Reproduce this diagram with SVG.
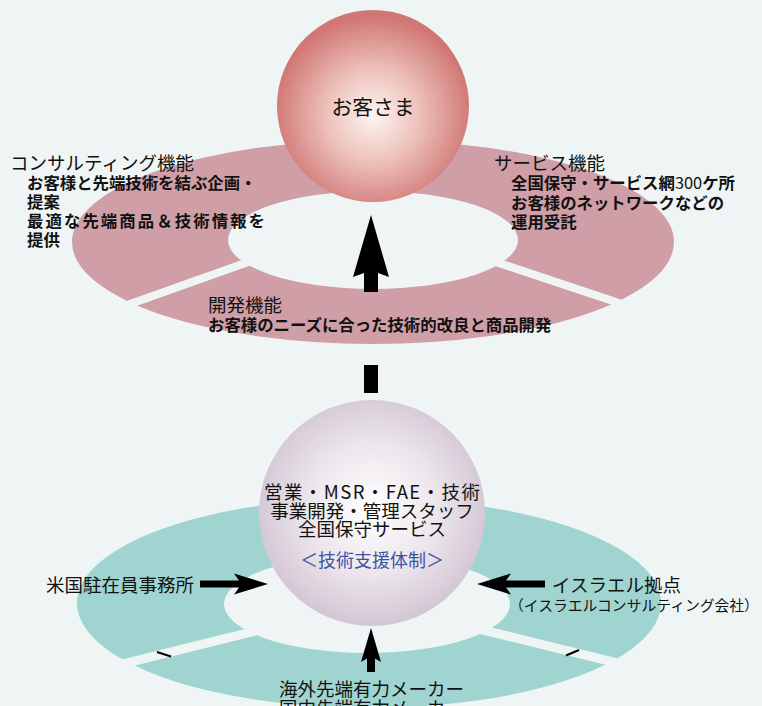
<svg xmlns="http://www.w3.org/2000/svg" width="762" height="706" viewBox="0 0 762 706">
<defs>
<radialGradient id="gTop" cx="50%" cy="55%" r="52%">
<stop offset="0" stop-color="#fdf4f2"/>
<stop offset="0.45" stop-color="#eec3bc"/>
<stop offset="1" stop-color="#d07674"/>
</radialGradient>
<radialGradient id="gBot" cx="50%" cy="48%" r="52%">
<stop offset="0" stop-color="#ffffff"/>
<stop offset="0.55" stop-color="#ece6ec"/>
<stop offset="1" stop-color="#d3c6d4"/>
</radialGradient>
<style>
.bg{fill:#eff5f5}
.ringTop{fill:#cf9ea6;fill-rule:evenodd}
.ringBot{fill:#a0d4d0;fill-rule:evenodd}
.gap{stroke:#eff5f5;fill:none}
.tick{stroke:#000;stroke-width:2}
.t{font-family:"Noto Sans CJK JP","Noto Sans",sans-serif;fill:#111}
.r{font-size:18.5px}
.b{font-size:16.4px;font-weight:bold}
.blue{fill:#3a53a4}
.arr{fill:#000}
</style>
</defs>
<rect class="bg" x="0" y="0" width="762" height="706"/>

<g id="ringTop">
<path class="ringTop" d="M72,242 A301,102 0 1,0 674,242 A301,102 0 1,0 72,242 Z M228,240 A145,49 0 1,0 518,240 A145,49 0 1,0 228,240 Z"/>
<line class="gap" stroke-width="8" x1="262" y1="257" x2="116" y2="309"/>
<line class="gap" stroke-width="8" x1="484" y1="258" x2="628" y2="306"/>
</g>

<g id="ringBottom">
<path class="ringBot" d="M77,603 A292,105 0 1,0 661,603 A292,105 0 1,0 77,603 Z M224,604 A143,49 0 1,0 510,604 A143,49 0 1,0 224,604 Z"/>
<line class="gap" stroke-width="9" x1="266" y1="628.3" x2="115" y2="665.8"/>
<line class="gap" stroke-width="9" x1="472" y1="627.3" x2="624" y2="664.7"/>
<line class="tick" x1="157" y1="652" x2="171" y2="656.5"/>
<line class="tick" x1="566" y1="655.5" x2="579" y2="650"/>
</g>

<g id="connectors">
<polygon class="arr" points="371,215 389,277 378,273 378,292 364,292 364,273 353,277"/>
<rect class="arr" x="364" y="365" width="14" height="28"/>
<polygon class="arr" points="200,580.5 239,580.5 234,573.5 268,584 234,594.5 239,587.5 200,587.5"/>
<polygon class="arr" points="545,580.5 506,580.5 511,573.5 477,584 511,594.5 506,587.5 545,587.5"/>
<polygon class="arr" points="371,628 381,662 375,658.5 375,672 367,672 367,658.5 361,662"/>
</g>

<g id="customer">
<circle cx="373" cy="106" r="96" fill="url(#gTop)"/>
<text class="t" x="373" y="115" font-size="20.8" text-anchor="middle">お客さま</text>
</g>

<g id="consulting">
<text class="t r" x="10" y="170">コンサルティング機能</text>
<text class="t b" x="27" y="189">お客様と先端技術を結ぶ企画・</text>
<text class="t b" x="27" y="208">提案</text>
<text class="t b" x="27" y="227" textLength="238" lengthAdjust="spacing">最適な先端商品＆技術情報を</text>
<text class="t b" x="27" y="246">提供</text>
</g>

<g id="service">
<text class="t r" x="494" y="170">サービス機能</text>
<text class="t b" x="511" y="189">全国保守・サービス網<tspan font-weight="normal">300</tspan>ケ所</text>
<text class="t b" x="511" y="209">お客様のネットワークなどの</text>
<text class="t b" x="511" y="228">運用受託</text>
</g>

<g id="development">
<text class="t r" x="208" y="312">開発機能</text>
<text class="t b" x="208" y="331">お客様のニーズに合った技術的改良と商品開発</text>
</g>

<g id="support">
<circle cx="372" cy="513" r="113" fill="url(#gBot)"/>
<text class="t r" x="372" y="499" text-anchor="middle" textLength="216" lengthAdjust="spacing">営業・MSR・FAE・技術</text>
<text class="t r" x="372" y="518" text-anchor="middle">事業開発・管理スタッフ</text>
<text class="t r" x="372" y="535.5" text-anchor="middle">全国保守サービス</text>
<text class="t blue" x="372" y="566.5" font-size="18" text-anchor="middle">＜技術支援体制＞</text>
</g>

<g id="us-office">
<text class="t r" x="46" y="592">米国駐在員事務所</text>
</g>

<g id="israel">
<text class="t r" x="552" y="592">イスラエル拠点</text>
<text class="t" x="509" y="611" font-size="14.8">（イスラエルコンサルティング会社）</text>
</g>

<g id="makers">
<text class="t r" x="279" y="696">海外先端有力メーカー</text>
<text class="t r" x="279" y="715">国内先端有力メーカー</text>
</g>
</svg>
